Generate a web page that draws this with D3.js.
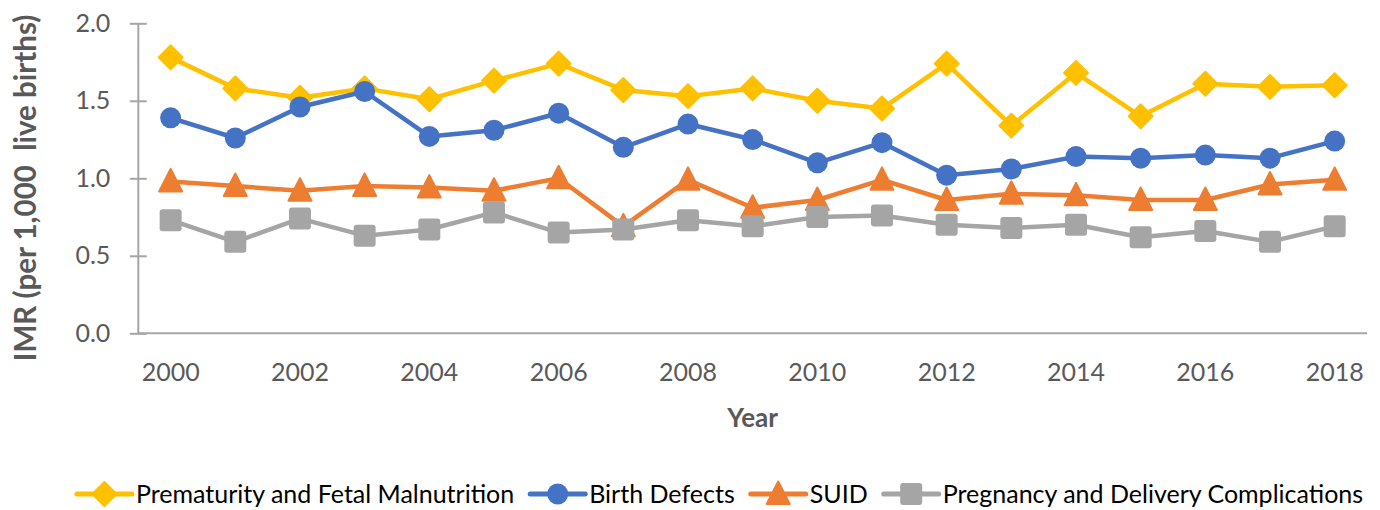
<!DOCTYPE html>
<html><head><meta charset="utf-8">
<script src="https://cdn.jsdelivr.net/npm/d3@7/dist/d3.min.js"></script>
<style>body{margin:0;background:#fff}svg{display:block;font-family:Lato,"Open Sans",sans-serif}</style>
</head><body><svg id="c" width="1380" height="510"></svg>
<script>
const years = [2000,2001,2002,2003,2004,2005,2006,2007,2008,2009,2010,2011,2012,2013,2014,2015,2016,2017,2018];
const xTickLabels = ["2000","2002","2004","2006","2008","2010","2012","2014","2016","2018"];
const yTicks = [0,0.5,1.0,1.5,2.0];
const seriesNames = ["Prematurity and Fetal Malnutrition","Birth Defects","SUID","Pregnancy and Delivery Complications"];
const prematurity = [1.78,1.58,1.52,1.58,1.51,1.63,1.74,1.57,1.53,1.58,1.50,1.45,1.74,1.34,1.68,1.40,1.61,1.59,1.60];
const birthDefects = [1.39,1.26,1.46,1.56,1.27,1.31,1.42,1.20,1.35,1.25,1.10,1.23,1.02,1.06,1.14,1.13,1.15,1.13,1.24];
const suid = [0.98,0.95,0.92,0.95,0.94,0.92,1.00,0.69,0.99,0.81,0.86,0.99,0.86,0.90,0.89,0.86,0.86,0.96,0.99];
const pregnancy = [0.73,0.59,0.74,0.63,0.67,0.78,0.65,0.67,0.73,0.69,0.75,0.76,0.70,0.68,0.70,0.62,0.66,0.59,0.69];
const colors = ["#FFC000","#4472C4","#ED7D31","#A5A5A5"];
const shapes = ["diamond","circle","triangle","square"];

const svg = d3.select("#c");
const L = 138.3, R = 1367, T = 23.3, B = 333.3;
const x = d3.scaleBand().domain(years).range([L, R]);
const xc = d => x(d) + x.bandwidth()/2;
const y = d3.scaleLinear().domain([0,2]).range([B, T]);

// y axis
const yAxis = d3.axisLeft(y).tickValues(yTicks).tickFormat(d3.format(".1f")).tickSize(0).tickPadding(28);
const gy = svg.append("g").attr("transform", `translate(${L},0)`).call(yAxis);
gy.select(".domain").remove();
gy.selectAll("text").attr("fill","#595959").attr("font-size",25).attr("font-family","Lato");
gy.selectAll(".tick").append("line").attr("x1",-8.5).attr("x2",8.5).attr("stroke","#A6A6A6").attr("stroke-width",2);
svg.append("line").attr("x1",L).attr("x2",L).attr("y1",T).attr("y2",B).attr("stroke","#A6A6A6").attr("stroke-width",2);

// x axis
const xAxis = d3.axisBottom(x).tickValues(years.filter(yv => xTickLabels.includes(String(yv)))).tickSize(0).tickPadding(30);
const gx = svg.append("g").attr("transform", `translate(0,${B})`).call(xAxis);
gx.select(".domain").remove();
gx.selectAll("text").attr("fill","#595959").attr("font-size",25).attr("font-family","Lato");
svg.append("line").attr("x1",L).attr("x2",R).attr("y1",B).attr("y2",B).attr("stroke","#A6A6A6").attr("stroke-width",2);

// titles
svg.append("text").attr("x",(L+R)/2).attr("y",427).attr("text-anchor","middle")
  .attr("font-size",26).attr("font-weight","bold").attr("fill","#595959").text("Year");
svg.append("text").attr("transform","translate(36,188) rotate(-90)").attr("text-anchor","middle")
  .attr("font-size",29.5).attr("font-weight","bold").attr("fill","#595959").style("white-space","pre")
  .text("IMR (per 1,000  live births)");

function marker(g, shape, cx, cy, color){
  if(shape==="diamond"){
    g.append("path").attr("d",`M${cx},${cy-12}L${cx+12},${cy}L${cx},${cy+12}L${cx-12},${cy}Z`)
     .attr("fill",color).attr("stroke",color).attr("stroke-width",2).attr("stroke-linejoin","round");
  } else if(shape==="circle"){
    g.append("circle").attr("cx",cx).attr("cy",cy).attr("r",10.5).attr("fill",color);
  } else if(shape==="triangle"){
    g.append("path").attr("d",`M${cx},${cy-12.5}L${cx+11.5},${cy+10}L${cx-11.5},${cy+10}Z`)
     .attr("fill",color).attr("stroke",color).attr("stroke-width",2).attr("stroke-linejoin","round");
  } else {
    g.append("rect").attr("x",cx-11).attr("y",cy-11).attr("width",22).attr("height",22).attr("rx",3)
     .attr("fill",color);
  }
}

const allSeries = [prematurity, birthDefects, suid, pregnancy];
const line = d3.line().x((d,i)=>xc(years[i])).y(d=>y(d));
allSeries.forEach((vals, s) => {
  const g = svg.append("g");
  g.append("path").attr("d", line(vals)).attr("fill","none").attr("stroke",colors[s])
    .attr("stroke-width",4.5).attr("stroke-linejoin","round").attr("stroke-linecap","round");
  vals.forEach((v,i)=>marker(g, shapes[s], xc(years[i]), y(v), colors[s]));
});

// legend
const lg = svg.append("g");
let cur = 0;
seriesNames.forEach((n, s) => {
  const it = lg.append("g").attr("transform",`translate(${cur},0)`);
  it.append("line").attr("x1",0).attr("x2",55).attr("y1",494).attr("y2",494).attr("stroke",colors[s]).attr("stroke-width",5).attr("stroke-linecap","round");
  marker(it, shapes[s], 27.5, 494, colors[s]);
  const t = it.append("text").attr("x",59).attr("y",503).attr("font-size",25).attr("fill","#000").text(n);
  const w = t.node().getComputedTextLength();
  cur += 59 + w + 16;
});
const total = cur - 16;
lg.attr("transform",`translate(${720 - total/2},0)`);
</script></body></html>
